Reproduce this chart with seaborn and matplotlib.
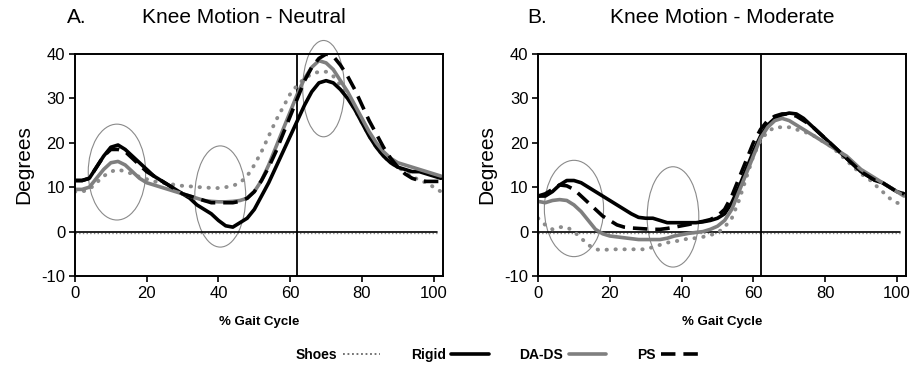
import numpy as np
import pandas as pd
import seaborn as sns
import matplotlib.pyplot as plt
from matplotlib.patches import Ellipse
from matplotlib.lines import Line2D

sns.set_style('ticks')
plt.rcParams['font.family'] = ['Liberation Sans', 'DejaVu Sans']
plt.rcParams['axes.unicode_minus'] = False
plt.rcParams['text.color'] = 'black'
plt.rcParams['axes.labelcolor'] = 'black'
plt.rcParams['xtick.color'] = 'black'
plt.rcParams['ytick.color'] = 'black'

gait = list(range(0, 104, 2))

# Panel A - Neutral
neutral_shoes = [9, 9, 9.5, 11, 12.5, 13.5, 14, 13.5, 13, 12.3, 11.8, 11.3, 11, 10.8, 10.5, 10.3, 10.2, 10, 10, 9.8,
                 9.8, 10, 10.3, 11, 12.5, 15, 18, 21.5, 25, 28, 31, 33, 34.5, 35.5, 36, 36, 35, 33, 30.5, 27.5,
                 24.5, 21.5, 19, 17, 15.5, 14.5, 13.5, 12.5, 11.5, 11, 10, 9]
neutral_rigid = [11.5, 11.5, 12, 14.5, 17, 19, 19.5, 18.5, 17, 15.5, 14, 12.5, 11.5, 10.5, 9.5, 8.5, 7.5, 6, 5, 4,
                 2.5, 1.3, 1, 2, 3, 5, 8, 11, 14.5, 18, 21.5, 25, 28.5, 31.5, 33.5, 34, 33.5, 32, 30, 27.5,
                 24.5, 21.5, 19, 17, 15.5, 14.5, 14, 13.5, 13.5, 13, 12.5, 12]
neutral_dads = [9.5, 9.5, 10, 12, 14, 15.5, 15.8, 15, 13.5, 12, 11, 10.5, 10, 9.5, 9, 8.5, 8, 7.5, 7, 6.8,
                6.7, 6.7, 6.8, 7, 7.5, 9, 11.5, 15, 19, 23, 27, 31, 34.5, 37, 38.5, 38, 36.5, 34, 31.5, 28.5,
                25.5, 22.5, 20, 18, 16.5, 15.5, 15, 14.5, 14, 13.5, 13, 12.5]
neutral_ps = [11.5, 11.5, 12, 14.5, 17, 18.5, 18.5, 18, 16.5, 15, 13.5, 12.5, 11.5, 10.5, 9.5, 8.5, 8, 7.5, 7, 6.5,
              6.5, 6.5, 6.5, 6.8, 7.5, 9, 11.5, 14.5, 18, 22, 26, 30, 34, 37, 39, 40, 39.5, 37.5, 35, 32,
              28.5, 25, 22, 19, 16.5, 14.5, 13, 12, 11.5, 11.3, 11.3, 11.3]

# Panel B - Moderate
moderate_shoes = [3, 1.5, 0.5, 1, 1, 0, -1.5, -3, -4, -4.2, -4, -4, -4, -4, -4, -4, -3.5, -3, -2.5, -2.2,
                  -2, -1.5, -1.5, -1.2, -0.8, -0.3, 1, 3, 7, 12, 17, 20.5, 22.5, 23.5, 23.5, 23.5, 23, 22.5, 22, 21,
                  20, 19, 17.5, 16, 14.5, 13, 12, 10.5, 9, 7.5, 6.5, 6]
moderate_rigid = [8, 8, 9, 10.5, 11.5, 11.5, 11, 10, 9, 8, 7, 6, 5, 4, 3.2, 3, 3, 2.5, 2, 2,
                  2, 2, 2, 2.2, 2.5, 3, 4, 6.5, 10, 14, 18, 21.5, 24, 25.5, 26.3, 26.7, 26.5, 25.5, 24, 22.5,
                  21, 19.5, 18, 16.5, 15, 13.5, 12.5, 11.5, 11, 10, 9, 8.5]
moderate_dads = [6.8, 6.5, 7, 7.2, 7, 6, 4.5, 2.5, 0.5, -0.5, -1, -1.2, -1.4, -1.6, -1.8, -1.8, -1.8, -1.8, -1.5, -1,
                 -0.7, -0.4, -0.2, 0, 0.5, 1.2, 2.5, 5, 9, 13, 17, 21, 23.5, 25, 25.5, 25, 24, 23, 22, 21,
                 20, 19, 18, 17, 15.5, 14, 13, 12, 11, 10, 9, 8]
moderate_ps = [8, 8.5, 9.5, 10.5, 10.3, 9.5, 8, 6.5, 5, 3.5, 2.5, 1.5, 1, 0.8, 0.7, 0.6, 0.5, 0.5, 0.7, 1,
               1.3, 1.6, 2, 2.3, 2.7, 3.5, 5, 8, 12, 16, 20, 23, 25, 26, 26.5, 26.5, 26, 25, 24, 22.5,
               21, 19.5, 18, 16.5, 15, 13.5, 12.5, 11.5, 11, 10, 9, 8.5]

# highlighted regions (center x, center y, width, height)
neutral_ellipses = [(11.7, 13.4, 16, 21.6), (40.5, 7.9, 14.2, 22.8), (69.3, 32.2, 11.6, 21.7)]
moderate_ellipses = [(10, 5.2, 16.5, 21.7), (37.6, 3.3, 14.4, 22.6)]

series_names = ['Shoes', 'Rigid', 'DA-DS', 'PS']
styles = {
    'Shoes': dict(color='#8c8c8c', linestyle=(0, (0.1, 2.2)), linewidth=2.8, dash_capstyle='round'),
    'Rigid': dict(color='black', linestyle='-', linewidth=2.6),
    'DA-DS': dict(color='#7f7f7f', linestyle='-', linewidth=2.6),
    'PS': dict(color='black', linestyle=(0, (4, 2.2)), linewidth=2.6),
}

fig = plt.figure(figsize=(9.12, 3.65), dpi=100)
ax_a = fig.add_axes([0.0822, 0.244, 0.4032, 0.608])
ax_b = fig.add_axes([0.5900, 0.244, 0.4032, 0.608])

panels = [
    (ax_a, [neutral_shoes, neutral_rigid, neutral_dads, neutral_ps], neutral_ellipses),
    (ax_b, [moderate_shoes, moderate_rigid, moderate_dads, moderate_ps], moderate_ellipses),
]

for ax, series, ellipses in panels:
    ax.plot([0, 101], [-0.25, -0.25], color='#888888', linestyle=':', linewidth=1)
    ax.plot([0, 101], [0, 0], color='black', linewidth=1.2)
    ax.axvline(62, color='black', linewidth=1.3)
    for name, vals in zip(series_names, series):
        sns.lineplot(x=gait, y=vals, ax=ax, **styles[name])
    for cx, cy, w, h in ellipses:
        ax.add_patch(Ellipse((cx, cy), w, h, fill=False, edgecolor='#8a8a8a',
                             linewidth=0.8, clip_on=False))
    ax.set_xlim(0, 102.5)
    ax.set_ylim(-10, 40)
    ax.set_xticks([0, 20, 40, 60, 80, 100])
    ax.set_yticks([-10, 0, 10, 20, 30, 40])
    ax.tick_params(labelsize=12, length=4, width=1.2, color='black', pad=3)
    for sp in ax.spines.values():
        sp.set_visible(True)
        sp.set_color('black')
        sp.set_linewidth(1.4)
    ax.set_xlabel('% Gait Cycle', fontsize=9.5, fontweight='bold', labelpad=11)
    ax.set_ylabel('Degrees', fontsize=15, labelpad=6)

fig.text(0.0735, 0.951, 'A.', fontsize=15, va='center', ha='left')
fig.text(0.2675, 0.951, 'Knee Motion - Neutral', fontsize=15, va='center', ha='center')
fig.text(0.578, 0.951, 'B.', fontsize=15, va='center', ha='left')
fig.text(0.792, 0.951, 'Knee Motion - Moderate', fontsize=15, va='center', ha='center')

handles = [Line2D([], [], **styles[n]) for n in series_names]
handles[0] = Line2D([], [], color='#666666', linestyle=(0, (1, 1.5)), linewidth=1.3)
fig.legend(handles, series_names, loc='center', bbox_to_anchor=(0.545, 0.027), ncol=4,
           frameon=False, markerfirst=False, handlelength=2.7, handletextpad=0.4, columnspacing=2.2,
           borderpad=0, prop={'weight': 'bold', 'size': 10})

fig.savefig('out.png', dpi=100)
